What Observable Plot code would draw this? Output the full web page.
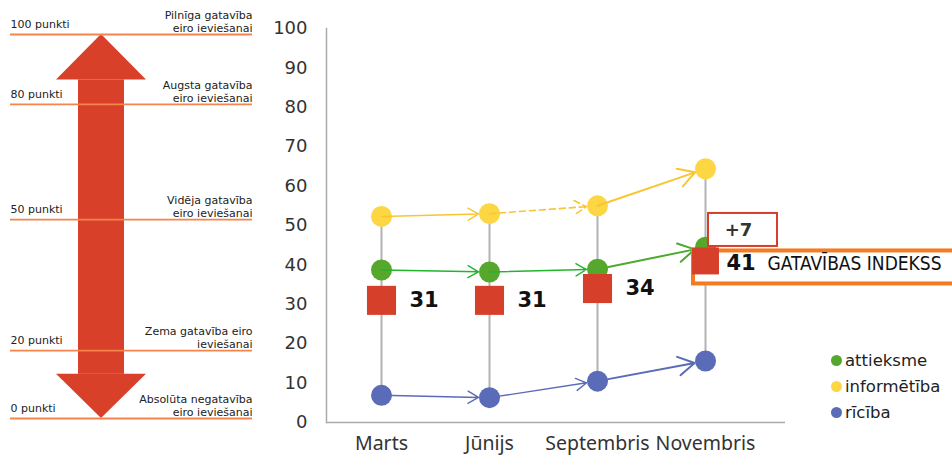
<!DOCTYPE html>
<html><head><meta charset="utf-8">
<script src="https://cdn.jsdelivr.net/npm/d3@7"></script>
<script src="https://cdn.jsdelivr.net/npm/@observablehq/plot@0.6"></script>
<style>
html,body{margin:0;padding:0;background:#fff;overflow:hidden;}
#wrap{position:relative;width:952px;height:455px;}
#wrap svg{position:absolute;left:0;top:0;overflow:visible;}
#legend{position:absolute;left:831px;top:347px;font-family:"DejaVu Sans",sans-serif;font-size:16.5px;color:#222;}
.item{height:26px;display:flex;align-items:center;}
.sw{width:11px;height:11px;border-radius:50%;margin-right:3px;}
</style></head><body>
<div id="wrap"></div>
<script>
// ---- data ----
const months = ["Marts", "Jūnijs", "Septembris", "Novembris"];
const attieksme = [38.7, 38.2, 38.9, 44.5];
const informetiba = [52.3, 53, 55, 64.4];
const riciba = [6.9, 6.3, 10.5, 15.6];
const indekss = [31, 31, 34, 41];
const yTicks = [0, 10, 20, 30, 40, 50, 60, 70, 80, 90, 100];
const seriesNames = ["attieksme", "informētība", "rīcība"];
const indexLabel = "GATAVĪBAS INDEKSS";
const levels = [0, 20, 50, 80, 100];
const levelNames = ["0 punkti", "20 punkti", "50 punkti", "80 punkti", "100 punkti"];
const levelDesc = [
  "Absolūta negatavība\neiro ieviešanai",
  "Zema gatavība eiro\nieviešanai",
  "Vidēja gatavība\neiro ieviešanai",
  "Augsta gatavība\neiro ieviešanai",
  "Pilnīga gatavība\neiro ieviešanai"
];

// ---- styles ----
const dotColors = ["#55a82b", "#fdd643", "#5a6bb8"];
const arrowColors = ["#23b52c", "#f9c532", "#5a6bb8"];
const red = "#d63f2a";

const table = months.map((m, i) => ({month: m, att: attieksme[i], inf: informetiba[i], ric: riciba[i], idx: indekss[i]}));
const seriesVals = [attieksme, informetiba, riciba];
const dashedSeg = {1: [1]}; // informētība Jūnijs→Septembris dashed

const wrap = document.getElementById("wrap");

// ---------- right chart ----------
const marks = [
  Plot.frame({anchor: "left", stroke: "#aaa", strokeWidth: 1.5}),
  Plot.ruleY([0], {stroke: "#aaa", strokeWidth: 1.5}),
  Plot.axisY({ticks: yTicks, tickSize: 0, tickPadding: 19, label: null, fontSize: 18, fill: "#333"}),
  Plot.axisX({tickSize: 0, tickPadding: 14, label: null, fontSize: 19.5, fontFamily: "Noto Sans", fill: "#333"}),
  Plot.ruleX(table, {x: "month", y1: d => Math.min(d.att, d.inf, d.ric), y2: d => Math.max(d.att, d.inf, d.ric), stroke: "#b3b3b3", strokeWidth: 2})
];
seriesVals.forEach((vals, s) => {
  marks.push(Plot.dot(months.map((m, i) => ({month: m, v: vals[i]})), {x: "month", y: "v", r: 10.5, fill: dotColors[s]}));
});
seriesVals.forEach((vals, s) => {
  const segs = months.slice(0, -1).map((m, i) => ({x1: m, y1: vals[i], x2: months[i + 1], y2: vals[i + 1], i}));
  const dashed = dashedSeg[s] || [];
  const plain = segs.filter(d => !dashed.includes(d.i) && d.i < 2);
  const dash = segs.filter(d => dashed.includes(d.i));
  const last = segs.filter(d => d.i === 2);
  marks.push(Plot.arrow(plain, {x1: "x1", y1: "y1", x2: "x2", y2: "y2", stroke: arrowColors[s], strokeWidth: 1.4, insetEnd: 11, headLength: 13}));
  if (dash.length) marks.push(Plot.arrow(dash, {x1: "x1", y1: "y1", x2: "x2", y2: "y2", stroke: arrowColors[s], strokeWidth: 1.6, strokeDasharray: "6,4", insetEnd: 11, headLength: 13}));
  marks.push(Plot.arrow(last, {x1: "x1", y1: "y1", x2: "x2", y2: "y2", stroke: s === 0 ? "#4caa2d" : arrowColors[s], strokeWidth: 2, insetEnd: 11, headLength: 14}));
});
// annotation boxes anchored to the last index point
marks.push((index, scales) => {
  const cx = scales.x(months[3]), cy = scales.y(indekss[3]);
  const g = d3.create("svg:g");
  g.append("rect").attr("x", cx - 12).attr("y", cy - 10).attr("width", 290).attr("height", 33)
    .attr("fill", "#fff").attr("stroke", "#f47b20").attr("stroke-width", 4);
  g.append("rect").attr("x", cx + 3).attr("y", cy - 47.5).attr("width", 69).attr("height", 33)
    .attr("fill", "#fff").attr("stroke", red).attr("stroke-width", 2);
  return g.node();
});
marks.push(
  Plot.dot(table.slice(0, 3), {x: "month", y: "idx", symbol: "square", r: 16.4, fill: red}),
  Plot.dot(table.slice(3), {x: "month", y: "idx", symbol: "square", r: 15.2, fill: red}),
  Plot.text(table.slice(0, 3), {x: "month", y: "idx", text: d => String(d.idx), dx: 28, textAnchor: "start", fontWeight: "bold", fontSize: 21, fill: "#111"}),
  Plot.text(table.slice(3), {x: "month", y: "idx", text: d => String(d.idx), dx: 21, dy: 2, textAnchor: "start", fontWeight: "bold", fontSize: 21, fill: "#111"}),
  Plot.text(table.slice(3), {x: "month", y: "idx", text: () => indexLabel, dx: 62, dy: 3, textAnchor: "start", fontSize: 19, fontFamily: "DejaVu Sans Condensed", fill: "#111"}),
  Plot.text(table.slice(3), {x: "month", y: "idx", text: d => "+" + (d.idx - indekss[2]), dx: 33, dy: -30.5, fontWeight: "bold", fontSize: 18, fill: "#333"})
);

const right = Plot.plot({
  width: 952, height: 455,
  marginLeft: 326, marginRight: 167, marginTop: 28, marginBottom: 33,
  x: {type: "point", domain: months, padding: 0.615, align: 0.404},
  y: {domain: [0, 100]},
  style: {background: "transparent", fontFamily: "DejaVu Sans", fontSize: "18px", overflow: "visible"},
  marks
});
wrap.appendChild(right);

// ---------- left scale graphic ----------
// the schematic's level spacing is not uniform: warp levels piecewise before the linear y scale
const warp = d3.scaleLinear().domain(levels).range([0, 17.7, 51.8, 81.8, 100]);
const arrowRed = "#d8402a";
const topHead = [{x: 46, y1: 87, y2: 87}, {x: 91, y1: 87, y2: 100}, {x: 136, y1: 87, y2: 87}];
const botHead = [{x: 46, y1: 13, y2: 13}, {x: 91, y1: 13, y2: 0}, {x: 136, y1: 13, y2: 13}];
const lv = levels.map((v, i) => ({v, name: levelNames[i], desc: levelDesc[i]}));
const left = Plot.plot({
  width: 260, height: 455,
  marginLeft: 10, marginRight: 8, marginTop: 34, marginBottom: 37,
  x: {domain: [0, 242], axis: null},
  y: {domain: [0, 100], transform: warp, axis: null},
  style: {background: "transparent", fontFamily: "DejaVu Sans", overflow: "visible"},
  marks: [
    Plot.rect([0], {x1: 68, x2: 114, y1: 13, y2: 87, fill: arrowRed}),
    Plot.areaY(topHead, {x: "x", y1: "y1", y2: "y2", fill: arrowRed}),
    Plot.areaY(botHead, {x: "x", y1: "y1", y2: "y2", fill: arrowRed}),
    Plot.ruleY(lv, {y: "v", stroke: "#f5844c", strokeWidth: 1.8}),
    Plot.text(lv, {y: "v", text: "name", frameAnchor: "left", textAnchor: "start", dy: -10, fontSize: 11, fill: "#222"}),
    Plot.text(lv, {y: "v", text: "desc", frameAnchor: "right", textAnchor: "end", dy: -13.5, lineHeight: 1.18, fontSize: 11, fill: "#222"})
  ]
});
wrap.appendChild(left);

// ---------- legend ----------
const legend = document.createElement("div");
legend.id = "legend";
seriesNames.forEach((n, i) => {
  const it = document.createElement("div"); it.className = "item";
  const sw = document.createElement("span"); sw.className = "sw"; sw.style.background = dotColors[i];
  const t = document.createElement("span"); t.textContent = n;
  it.appendChild(sw); it.appendChild(t); legend.appendChild(it);
});
wrap.appendChild(legend);
</script>
</body></html>
